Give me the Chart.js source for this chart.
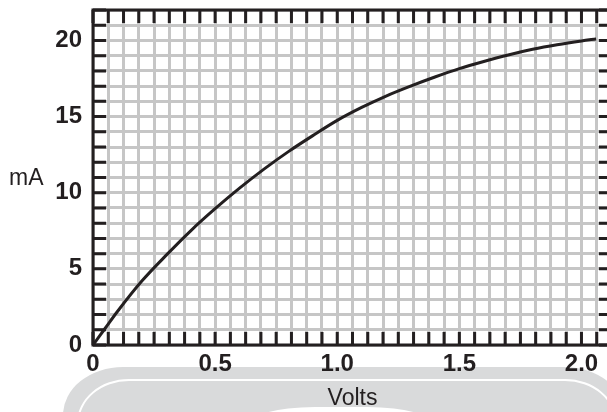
<!DOCTYPE html>
<html>
<head>
<meta charset="utf-8">
<title>mA vs Volts</title>
<script src="https://cdn.jsdelivr.net/npm/chart.js@4"></script>
<style>
    html, body { margin: 0; padding: 0; background: #fff; overflow: hidden; }
    #wrap { position: relative; width: 607px; height: 412px; overflow: hidden; }
    /* light grey rounded band behind the x axis title */
    .band { position: absolute; left: 63px; top: 367px; width: 562px; height: 110px; background: #d9dadb; border-radius: 60px / 48px; }
    .band-line { position: absolute; left: 77px; top: 379px; width: 540px; height: 100px; border: 2px solid #fff; border-radius: 52px / 44px; box-sizing: border-box; }
    .band-spot { position: absolute; left: 245px; top: 407px; width: 192px; height: 40px; background: #fff; border-radius: 70px / 20px; }
    #chart { position: absolute; left: 0; top: 0; }
</style>
</head>
<body>
<div id="wrap">
    <div class="band"></div>
    <div class="band-line"></div>
    <div class="band-spot"></div>
    <canvas id="chart" width="620" height="412"></canvas>
</div>
<script>
// Curve
const voltage = [0, 0.05, 0.1, 0.2, 0.3, 0.4, 0.5, 0.6, 0.7, 0.8, 0.9, 1.0, 1.1, 1.2, 1.3, 1.4, 1.5, 1.6, 1.7, 1.8, 1.9, 2.0, 2.06];
const current = [0, 1.1, 2.2, 4.2, 5.9, 7.5, 8.95, 10.3, 11.55, 12.7, 13.75, 14.75, 15.6, 16.35, 17.0, 17.6, 18.15, 18.62, 19.05, 19.42, 19.72, 19.97, 20.1];

// Labelled ticks
const xLabels = [0, 0.5, 1.0, 1.5, 2.0];
const yLabels = [0, 5, 10, 15, 20];

const INK = '#231f20';
const GRID = '#c6c6c6';
const FONT = '"Liberation Sans", Arial, Helvetica, sans-serif';
const TICK_LEN = 13;

function isLabelled(list, v) {
    return list.some(l => Math.abs(l - v) < 1e-6);
}

/**
 * Inward tick marks on all four sides, the frame and the "mA" caption
 */
const framePlugin = {
    id: 'frame',
    beforeDatasetsDraw(chart) {
        const { ctx, chartArea: a, scales: { x, y } } = chart;
        ctx.save();
        ctx.strokeStyle = INK;
        ctx.lineWidth = 3;
        ctx.beginPath();
        x.ticks.forEach(t => {
            const px = x.getPixelForValue(t.value);
            ctx.moveTo(px, a.top);
            ctx.lineTo(px, a.top + TICK_LEN);
            ctx.moveTo(px, a.bottom);
            ctx.lineTo(px, a.bottom - TICK_LEN);
        });
        y.ticks.forEach(t => {
            const py = y.getPixelForValue(t.value);
            ctx.moveTo(a.left, py);
            ctx.lineTo(a.left + TICK_LEN, py);
            ctx.moveTo(a.right, py);
            ctx.lineTo(a.right - TICK_LEN, py);
        });
        ctx.stroke();
        ctx.strokeRect(a.left, a.top, a.right - a.left, a.bottom - a.top);
        ctx.restore();
    },
    afterDraw(chart) {
        const { ctx, scales: { y } } = chart;
        ctx.save();
        ctx.fillStyle = INK;
        ctx.font = '23px ' + FONT;
        ctx.textAlign = 'left';
        ctx.textBaseline = 'middle';
        ctx.fillText('mA', 9, y.getPixelForValue(10.9));
        ctx.restore();
    }
};

const ctx = document.getElementById('chart').getContext('2d');
new Chart(ctx, {
    type: 'scatter',
    data: {
        datasets: [{
            data: voltage.map((v, i) => ({ x: v, y: current[i] })),
            showLine: true,
            borderColor: INK,
            borderWidth: 3,
            pointRadius: 0,
            cubicInterpolationMode: 'monotone',
            fill: false
        }]
    },
    options: {
        responsive: false,
        animation: false,
        layout: { padding: { top: 10, right: 8, bottom: 0, left: 0 } },
        plugins: {
            legend: { display: false },
            tooltip: { enabled: false }
        },
        scales: {
            x: {
                type: 'linear',
                min: 0,
                max: 2.125,
                afterFit(scale) {
                    scale.height = 67;
                    scale.paddingLeft = 0;
                    scale.paddingRight = 0;
                },
                border: { display: false },
                grid: { color: GRID, lineWidth: 3, drawTicks: false },
                ticks: {
                    stepSize: 0.0625,
                    autoSkip: false,
                    maxRotation: 0,
                    padding: 5,
                    color: INK,
                    font: { family: FONT, size: 24, weight: 'bold' },
                    callback: v => isLabelled(xLabels, v) ? (v === 0 ? '0' : v.toFixed(1)) : ''
                },
                title: {
                    display: true,
                    text: 'Volts',
                    color: INK,
                    padding: { top: 0, bottom: 0 },
                    font: { family: FONT, size: 23 }
                }
            },
            y: {
                min: 0,
                max: 22,
                afterFit(scale) {
                    scale.width = 93;
                    scale.paddingTop = 0;
                    scale.paddingBottom = 0;
                },
                border: { display: false },
                grid: { color: GRID, lineWidth: 3, drawTicks: false },
                ticks: {
                    stepSize: 1,
                    autoSkip: false,
                    padding: 11,
                    color: INK,
                    font: { family: FONT, size: 24, weight: 'bold' },
                    callback: v => isLabelled(yLabels, v) ? String(v) : ''
                }
            }
        }
    },
    plugins: [framePlugin]
});
</script>
</body>
</html>
